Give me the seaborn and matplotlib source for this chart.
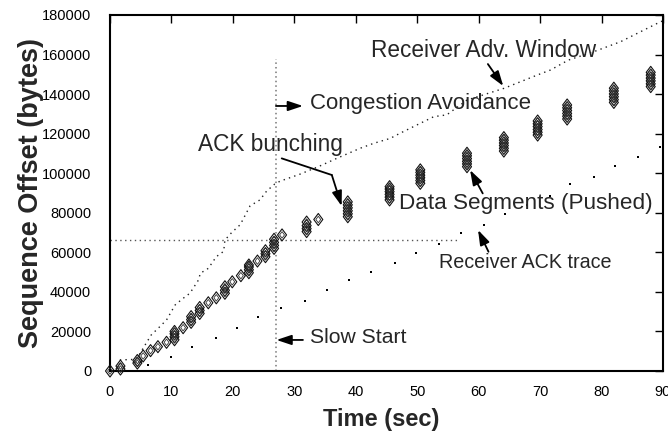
import numpy as np
import pandas as pd
import matplotlib
matplotlib.use("Agg")
import matplotlib.pyplot as plt
import seaborn as sns
from matplotlib.path import Path

# data segment bursts: send time (sec) and offsets of the segments in each burst (KB)
burst_time = [0.0, 1.7, 4.45, 5.4, 6.6, 7.8, 9.2, 10.5, 11.9, 13.2, 14.6, 16.0,
              17.3, 18.7, 19.9, 21.3, 22.6, 24.0, 25.3, 26.7, 28.0,
              32.0, 33.9, 38.7, 45.5, 50.5, 58.1, 64.1, 69.6, 74.4, 82.0, 88.0]
burst_kb = [
    [0.0], [1.0, 2.5], [4.0, 5.3], [7.6], [10.3], [12.3], [14.5],
    [15.8, 17.3, 18.8, 20.0], [21.9], [24.6, 26.0, 27.5], [29.1, 30.6, 32.1],
    [34.5], [37.0], [39.3, 40.8, 42.6], [45.1], [48.2], [49.7, 51.2, 52.6, 53.6],
    [55.6], [57.8, 59.3, 60.8], [62.0, 63.5, 65.0, 66.6], [68.8],
    [70.5, 72.0, 73.5, 75.3], [76.6],
    [78.0, 79.5, 81.0, 82.5, 84.0, 85.5],
    [86.5, 87.9, 89.3, 90.7, 92.0, 93.2],
    [94.9, 96.3, 97.7, 99.0, 100.4, 101.7],
    [103.3, 104.7, 106.0, 107.4, 108.8, 110.1],
    [111.2, 112.6, 114.0, 115.3, 116.7, 118.0],
    [119.3, 120.7, 122.1, 123.6, 125.0, 126.4],
    [127.4, 128.8, 130.2, 131.7, 133.1, 134.5],
    [135.8, 137.2, 138.7, 140.1, 141.6, 143.0],
    [143.8, 145.2, 146.7, 148.1, 149.6, 151.0],
]

# receiver ACK trace
ack_time = [6.2, 10.0, 13.4, 17.2, 20.7, 24.1, 27.9, 31.8, 35.3, 38.9, 42.5, 46.4,
            49.8, 53.6, 57.1, 60.8, 64.3, 67.9, 71.6, 74.9, 78.8, 82.2, 86.0, 89.5]
ack_kb = [3.0, 6.9, 12.3, 16.5, 21.9, 27.5, 31.7, 35.5, 41.0, 46.0, 50.2, 54.4,
          59.8, 64.2, 69.9, 73.8, 79.2, 83.9, 88.5, 94.4, 98.2, 103.6, 108.3, 113.4]

# receiver advertised window (right edge)
win_time = [1.6, 4.3, 5.7, 6.7, 8.1, 9.2, 10.6, 11.8, 13.0, 14.4, 14.7, 16.0, 17.3,
            18.5, 18.7, 19.8, 21.2, 22.8, 24.4, 25.5, 26.8, 27.7, 30.9, 33.9, 36.9,
            40.7, 42.9, 45.6, 47.2, 52.7, 54.8, 58.1, 64.1, 69.5, 71.7, 74.6, 78.7,
            83.1, 89.6, 90.0]
win_kb = [5.6, 5.9, 13.1, 18.2, 22.4, 25.8, 33.4, 36.5, 39.3, 46.0, 49.4, 51.9, 57.8,
          60.5, 66.2, 70.0, 74.0, 83.5, 86.5, 91.0, 94.5, 96.0, 99.5, 103.3, 107.5,
          112.6, 115.1, 117.6, 120.2, 128.6, 129.5, 137.0, 142.9, 149.6, 152.2, 157.2, 161.4,
          166.5, 176.6, 177.0]

# slow start -> congestion avoidance switch, and ssthresh level
switch_time = 27.0
switch_top_kb = 158.0
ssthresh_kb = 66.2
ssthresh_end_time = 57.0

x_ticks = list(range(0, 91, 10))
y_ticks = list(range(0, 180001, 20000))

seg = pd.DataFrame({
    "time": np.repeat(burst_time, [len(b) for b in burst_kb]),
    "offset": np.concatenate(burst_kb) * 1000,
})
ack = pd.DataFrame({"time": ack_time, "offset": np.array(ack_kb) * 1000})
win = pd.DataFrame({"time": win_time, "offset": np.array(win_kb) * 1000})

sns.set_style("white")
plt.rcParams["font.family"] = ["Liberation Sans", "DejaVu Sans"]

fig = plt.figure(figsize=(6.68, 4.37), dpi=100)
ax = fig.add_axes([110 / 668, 1 - 371 / 437, 553 / 668, 356 / 437])

diamond = Path([(0, 1), (0.75, 0), (0, -1), (-0.75, 0), (0, 1)],
               [Path.MOVETO, Path.LINETO, Path.LINETO, Path.LINETO, Path.CLOSEPOLY])

# reference lines
ax.plot([switch_time, switch_time], [0, switch_top_kb * 1000], color="#777777",
        lw=1.1, linestyle=(0, (1, 2)), zorder=1)
ax.plot([0, ssthresh_end_time], [ssthresh_kb * 1000, ssthresh_kb * 1000], color="#555555",
        lw=1.0, linestyle=(0, (1, 2.5)), zorder=1)

sns.lineplot(data=win, x="time", y="offset", ax=ax, color="#222222", lw=1.0,
             linestyle=(0, (1, 3)), estimator=None, sort=False)
sns.scatterplot(data=ack, x="time", y="offset", ax=ax, color="black", s=4,
                marker="s", linewidth=0)
# segment symbol: diamond with an inner diamond
sns.scatterplot(data=seg, x="time", y="offset", ax=ax, color="black", facecolor="none",
                edgecolor="#111111", marker=diamond, s=75, linewidth=0.8, clip_on=False,
                zorder=3)
sns.scatterplot(data=seg, x="time", y="offset", ax=ax, color="black", facecolor="none",
                edgecolor="#333333", marker=diamond, s=22, linewidth=0.6, clip_on=False,
                zorder=3)

ax.set_xlim(0, 90)
ax.set_ylim(0, 180000)
ax.set_xticks(x_ticks)
ax.set_yticks(y_ticks)
ax.set_xticklabels([str(t) for t in x_ticks])
ax.set_yticklabels([str(t) for t in y_ticks])
ax.tick_params(direction="in", length=6, width=1, top=True, right=True,
               labelsize=10.5, colors="black")
ax.tick_params(axis="y", pad=13.5)
ax.tick_params(axis="x", pad=10)
for sp in ax.spines.values():
    sp.set_linewidth(1.5)
    sp.set_color("black")

ax.set_xlabel("Time (sec)", fontsize=17, fontweight="bold")
ax.set_ylabel("Sequence Offset (bytes)", fontsize=19.5, fontweight="bold")
ax.xaxis.set_label_coords(0.49, -0.103)
ax.yaxis.set_label_coords(-0.119, 0.5)

# annotations
arrow = dict(arrowstyle="-|>,head_length=0.9,head_width=0.3", color="black", lw=1.3,
             shrinkA=0, shrinkB=0)
ax.text(42.5, 162300, "Receiver Adv. Window", fontsize=16.3, va="center", ha="left")
ax.annotate("", xy=(64.0, 144100), xytext=(61.5, 155200), arrowprops=arrow)

ax.text(32.55, 135500, "Congestion Avoidance", fontsize=16, va="center", ha="left")
ax.annotate("", xy=(31.4, 134000), xytext=(27.0, 134000), arrowprops=arrow)

ax.text(14.3, 114300, "ACK bunching", fontsize=16.3, va="center", ha="left")
ax.plot([27.95, 36.1], [107500, 99100], color="black", lw=1.3)
ax.annotate("", xy=(37.7, 83400), xytext=(36.1, 99100), arrowprops=arrow)

ax.text(47.0, 84900, "Data Segments (Pushed)", fontsize=16.2, va="center", ha="left")
ax.annotate("", xy=(58.6, 101600), xytext=(60.66, 89800), arrowprops=arrow)

ax.text(53.5, 55100, "Receiver ACK trace", fontsize=14.2, va="center", ha="left")
ax.annotate("", xy=(59.9, 71300), xytext=(61.6, 60300), arrowprops=arrow)

ax.text(32.55, 16700, "Slow Start", fontsize=15.2, va="center", ha="left")
ax.annotate("", xy=(27.1, 15700), xytext=(31.4, 15700), arrowprops=arrow)

fig.savefig("out.png", dpi=100)
